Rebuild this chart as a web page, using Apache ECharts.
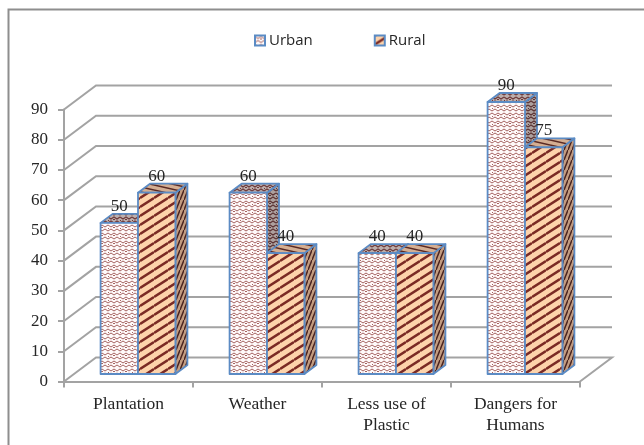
<!DOCTYPE html>
<html>
<head>
<meta charset="utf-8">
<style>html,body{margin:0;padding:0;background:#fff}#chart{width:644px;height:445px}</style>
<script src="https://cdn.jsdelivr.net/npm/echarts@6/dist/echarts.min.js"></script>
</head>
<body>
<div id="chart"></div>
<script>
var categories = ['Plantation', 'Weather', 'Less use of\nPlastic', 'Dangers for\nHumans'];
var urban = [50, 60, 40, 90];
var rural = [60, 40, 40, 75];
var yTicks = [0, 10, 20, 30, 40, 50, 60, 70, 80, 90];

var WALL_DX = 32, WALL_DY = -24;   // depth of the back wall
var BAR_DX = 12, BAR_DY = -9;      // depth of a bar
var SHIFT_X = 9.5, SHIFT_Y = -7.5;    // bars stand inside the floor
var EDGE = '#5b8bc4', GRID = '#a3a3a3', TEXT = '#262626';

// pattern tiles, one per face of the bars
function tile(w, h, bg, draw) {
  var c = document.createElement('canvas');
  c.width = w; c.height = h;
  var g = c.getContext('2d');
  g.fillStyle = bg;
  g.fillRect(0, 0, w, h);
  draw(g, w, h);
  return { image: c, repeat: 'repeat' };
}
function weave(color, lw) {
  return function (g, w, h) {
    g.strokeStyle = color;
    g.lineWidth = lw;
    g.beginPath();
    g.moveTo(0, 1); g.lineTo(3, 3); g.lineTo(6, 1); g.lineTo(9, 3); g.lineTo(12, 1);
    g.moveTo(0, 7); g.lineTo(3, 5); g.lineTo(6, 7); g.lineTo(9, 5); g.lineTo(12, 7);
    g.stroke();
    g.fillStyle = color;
    g.fillRect(5, 3, 2, 1);
    g.fillRect(0, 4, 1, 1);
  };
}
function stripes(color, lw, down) {
  return function (g, w, h) {
    g.strokeStyle = color;
    g.lineWidth = lw;
    g.beginPath();
    for (var i = -1; i <= 1; i++) {
      g.moveTo(0, down ? i * h : h + i * h);
      g.lineTo(w, down ? h + i * h : i * h);
    }
    g.stroke();
  };
}
var urbanFront = tile(12, 8, '#fffafa', weave('#a56462', 1));
var urbanTop = tile(12, 8, '#bcaeac', weave('#6e3a3a', 1.2));
var urbanSide = tile(12, 8, '#ada09e', weave('#5c3434', 1.3));
var ruralFront = tile(14, 9, '#fdd3ab', stripes('#7a2a24', 2.5));
var ruralTop = tile(22, 5, '#d4ae92', stripes('#5a2a24', 1.5, true));
var ruralSide = tile(4, 10, '#c39c80', stripes('#4a2420', 1.5));

function renderWall(params, api) {
  var v = api.value(0);
  var a = api.coord([0, v]);
  var size = api.size([1, 0])[0];
  var left = a[0] - size / 2;
  var right = left + size * categories.length;
  var y = a[1];
  var pts = [[left, y], [left + WALL_DX, y + WALL_DY], [right + WALL_DX, y + WALL_DY]];
  if (v === 0) pts.push([right, y]);
  return {
    type: 'polyline',
    shape: { points: pts },
    style: { fill: null, stroke: GRID, lineWidth: 2 },
    silent: true
  };
}

function barRenderer(side, front, top, depth) {
  return function (params, api) {
    var i = api.value(0), v = api.value(1);
    var size = api.size([1, 0])[0];
    var w = size * 0.29;
    var c = api.coord([i, v]);
    var b = api.coord([i, 0]);
    var x0 = c[0] + SHIFT_X + (side < 0 ? -w : 0);
    var x1 = x0 + w;
    var yt = c[1] + SHIFT_Y, yb = b[1] + SHIFT_Y;
    var edge = { stroke: EDGE, lineWidth: 1.8, lineJoin: 'round' };
    return {
      type: 'group',
      children: [
        { type: 'polygon', shape: { points: [[x1, yt], [x1 + BAR_DX, yt + BAR_DY], [x1 + BAR_DX, yb + BAR_DY], [x1, yb]] },
          style: Object.assign({ fill: depth }, edge) },
        { type: 'polygon', shape: { points: [[x0, yt], [x0 + BAR_DX, yt + BAR_DY], [x1 + BAR_DX, yt + BAR_DY], [x1, yt]] },
          style: Object.assign({ fill: top }, edge) },
        { type: 'polygon', shape: { points: [[x0, yt], [x1, yt], [x1, yb], [x0, yb]] },
          style: Object.assign({ fill: front }, edge) },
        { type: 'text', z2: 10,
          style: { text: String(v), x: (x0 + x1) / 2, y: yt - 16.5, align: 'center', verticalAlign: 'middle',
            fill: TEXT, font: '17px "Liberation Serif"' } }
      ]
    };
  };
}

function pairs(values) {
  return values.map(function (v, i) { return [i, v]; });
}

var chart = echarts.init(document.getElementById('chart'), null, { renderer: 'canvas' });
chart.setOption({
  animation: false,
  backgroundColor: '#fff',
  graphic: [{
    type: 'polyline',
    silent: true,
    shape: { points: [[8.5, 445], [8.5, 9.5], [644, 9.5]] },
    style: { fill: null, stroke: '#8e8e8e', lineWidth: 2 }
  }],
  legend: {
    left: 249, top: 28, itemWidth: 10, itemHeight: 10, itemGap: 61,
    textStyle: { fontFamily: 'Open Sans', fontSize: 15, color: TEXT, padding: [0, 0, 0, -1] },
    data: [
      { name: 'Urban', icon: 'rect', itemStyle: { color: urbanFront, borderColor: EDGE, borderWidth: 2 } },
      { name: 'Rural', icon: 'rect', itemStyle: { color: ruralFront, borderColor: EDGE, borderWidth: 2 } }
    ]
  },
  grid: { left: 64, right: 64, top: 109.5, bottom: 63.5 },
  xAxis: {
    type: 'category',
    data: categories,
    axisLine: { lineStyle: { color: GRID, width: 2 } },
    axisTick: { show: true, length: 6, lineStyle: { color: GRID, width: 2 } },
    axisLabel: { fontFamily: 'Liberation Serif', fontSize: 17.5, color: TEXT, margin: 12, lineHeight: 21 }
  },
  yAxis: {
    type: 'value',
    min: 0, max: 90, interval: 10,
    axisLine: { show: true, lineStyle: { color: GRID, width: 2 } },
    axisTick: { show: true, length: 6, lineStyle: { color: GRID, width: 2 } },
    axisLabel: { fontFamily: 'Liberation Serif', fontSize: 17, color: TEXT, margin: 16 },
    splitLine: { show: false }
  },
  series: [
    { name: 'wall', type: 'custom', clip: false, silent: true, z: 1, renderItem: renderWall,
      data: yTicks.map(function (t) { return [t]; }), encode: { y: 0 } },
    { name: 'Urban', type: 'custom', clip: false, z: 2, itemStyle: { color: urbanFront },
      renderItem: barRenderer(-1, urbanFront, urbanTop, urbanSide),
      data: pairs(urban), encode: { x: 0, y: 1 } },
    { name: 'Rural', type: 'custom', clip: false, z: 3, itemStyle: { color: ruralFront },
      renderItem: barRenderer(1, ruralFront, ruralTop, ruralSide),
      data: pairs(rural), encode: { x: 0, y: 1 } }
  ]
});
</script>
</body>
</html>
